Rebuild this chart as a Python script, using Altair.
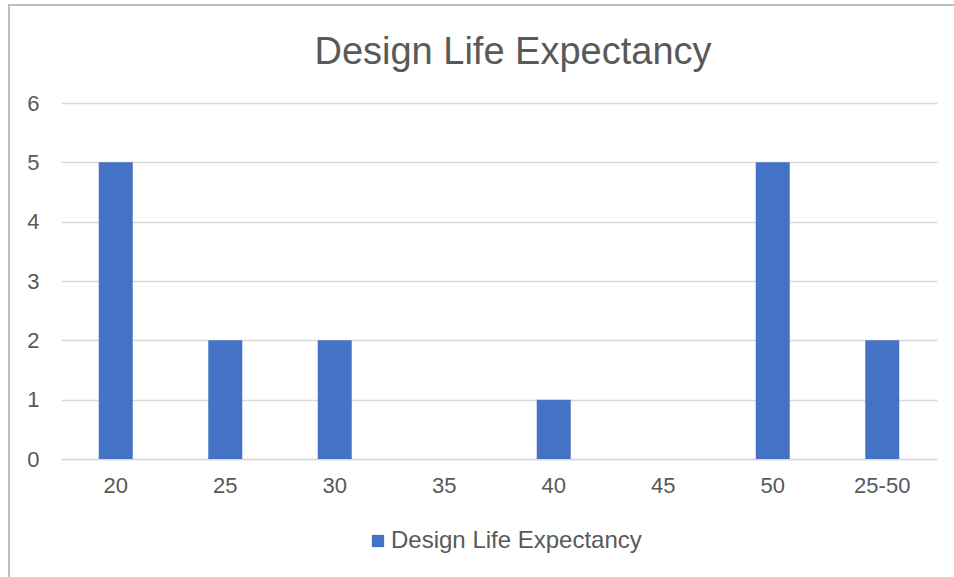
import altair as alt
import pandas as pd

categories = ["20", "25", "30", "35", "40", "45", "50", "25-50"]
values = [5, 2, 2, 0, 1, 0, 5, 2]
series_name = "Design Life Expectancy"

df = pd.DataFrame({"cat": categories, "val": values, "series": [series_name] * len(categories)})

FONT = "Liberation Sans"
GREY = "#595959"

border = alt.Chart(pd.DataFrame({"a": [0]})).mark_rect(
    fill=None, stroke="#bfbfbf", strokeWidth=2
).encode(
    x=alt.value(-52), x2=alt.value(1000), y=alt.value(-98), y2=alt.value(600)
)

bars = alt.Chart(df).mark_bar(size=34).encode(
    x=alt.X("cat:N", sort=categories, title=None,
            scale=alt.Scale(paddingInner=0, paddingOuter=0),
            axis=alt.Axis(labelAngle=0, labelFont=FONT, labelFontSize=22, labelColor=GREY,
                          domainColor="#d9d9d9", domainWidth=1.5, ticks=False, labelPadding=16)),
    y=alt.Y("val:Q", title=None,
            scale=alt.Scale(domain=[0, 6]),
            axis=alt.Axis(values=[0, 1, 2, 3, 4, 5, 6], labelFont=FONT, labelFontSize=22,
                          labelColor=GREY, domain=False, ticks=False, labelPadding=22,
                          gridColor="#d9d9d9", gridWidth=1.5)),
    color=alt.Color("series:N", title=None,
                    scale=alt.Scale(range=["#4472C4"]),
                    legend=alt.Legend(orient="none", legendX=305, legendY=426, padding=0,
                                      symbolType="square", symbolSize=150, symbolStrokeWidth=0,
                                      labelFont=FONT, labelFontSize=24, labelColor=GREY,
                                      labelOffset=1, labelLimit=0, symbolOpacity=1)),
)

chart = alt.layer(border, bars).properties(
    width=876, height=356,
    title=alt.TitleParams(series_name, font=FONT, fontSize=38, fontWeight="normal",
                          color=GREY, anchor="middle", dx=14, offset=0, dy=98,
                          baseline="alphabetic"),
    padding={"left": 61, "top": 103, "right": 17, "bottom": 118},
    autosize=alt.AutoSizeParams(type="none"),
).configure(background="white").configure_view(stroke=None)

chart.save("out.html", embed_options={"renderer": "svg", "actions": False})
